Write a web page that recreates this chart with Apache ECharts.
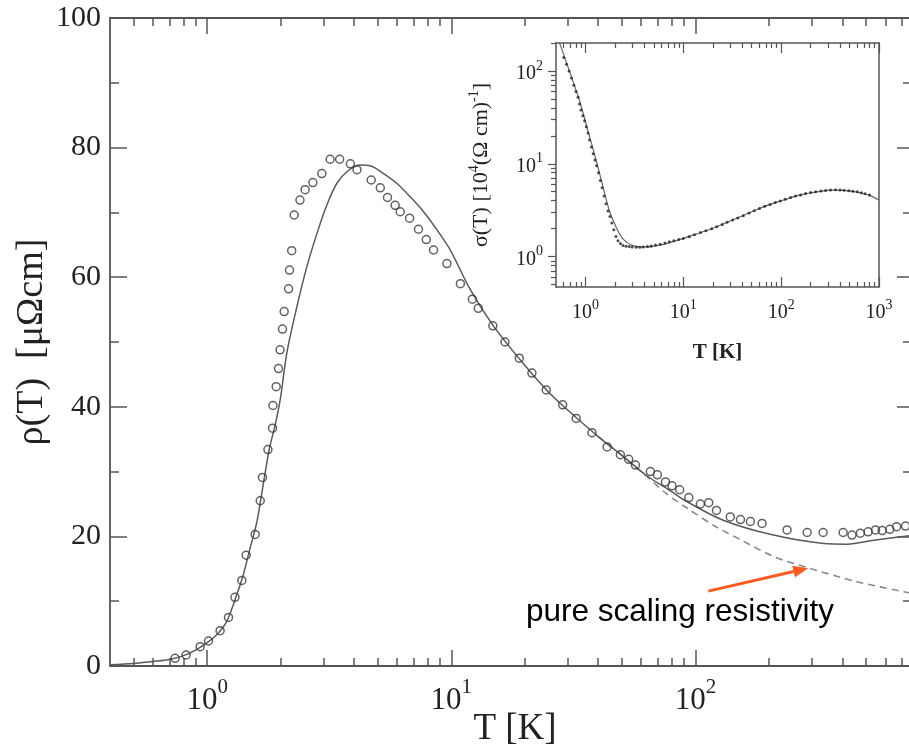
<!DOCTYPE html>
<html><head><meta charset="utf-8">
<script src="https://cdn.jsdelivr.net/npm/echarts@6/dist/echarts.min.js"></script>
<style>html,body{margin:0;padding:0;background:#fff}#c{width:909px;height:750px}</style>
</head><body><div id="c"></div>
<script>
// ---- main plot: resistivity rho(T) [μΩcm] ----
const rhoExpT = [0.739,0.82,0.936,1.013,1.13,1.223,1.30,1.387,1.445,1.573,1.65,1.685,1.774,1.853,1.86,1.918,1.96,1.99,2.035,2.068,2.155,2.175,2.22,2.273,2.40,2.52,2.71,2.95,3.19,3.49,3.86,4.11,4.70,5.12,5.48,5.89,6.18,6.75,7.34,7.90,8.46,9.6,10.9,12.2,12.9,14.8,16.6,19.0,21.4,24.5,28.6,32.5,37.7,43.5,49.3,53.3,56.8,65.4,69.9,75.4,80.2,86.2,94.0,104.8,113.4,122,139,153,168,187.5,237.5,287,333.6,403,438,474,510,547,582,626,667,726];
const rhoExp  = [1.19,1.7,2.98,3.86,5.45,7.5,10.6,13.2,17.1,20.3,25.5,29.1,33.4,36.7,40.2,43.1,45.9,48.8,52.0,54.7,58.2,61.1,64.1,69.6,71.9,73.5,74.6,76.0,78.2,78.2,77.5,76.6,75.0,73.8,72.3,71.1,70.1,69.1,67.4,65.8,64.2,62.1,59.0,56.6,55.2,52.5,50.0,47.5,45.2,42.6,40.3,38.2,36.0,33.8,32.6,31.9,31.0,30.0,29.5,28.4,27.8,27.2,26.0,25.0,25.2,24.0,23.0,22.6,22.3,22.0,21.0,20.6,20.6,20.6,20.2,20.5,20.7,21.0,20.9,21.1,21.5,21.6];
const rhoFitT = [0.4,0.5,0.6,0.7,0.8,0.9,1.0,1.1,1.2,1.3,1.4,1.5,1.6,1.7,1.8,1.9,2.0,2.12,2.33,2.56,2.82,3.09,3.40,3.80,4.24,4.66,5.28,5.98,6.79,7.70,8.74,9.9,12.0,15.0,20.0,25,30,40,50,63,80,90,130,209,336,419,538,750];
const rhoFit  = [0.2,0.4,0.7,1.0,1.6,2.5,3.6,4.9,6.8,10.2,13.8,18.2,22.3,28.2,33.6,37.2,41.5,48.3,55.4,61.6,66.8,71.1,74.5,76.5,77.3,77.2,76.0,74.5,72.4,70.1,67.3,64.2,58.0,52.3,46.4,42.3,39.5,35.4,32.5,29.4,26.9,25.6,22.5,20.2,18.9,18.8,19.4,20.1];
const rhoScaleT = [40,50,63,76,93,120,153,209,287,459,750];
const rhoScale  = [35.4,32.5,29.3,26.6,24.3,21.6,19.5,16.9,15.2,13.0,11.3];
const arrowTipT = 290, arrowTipRho = 15.1;
const annotText = 'pure scaling resistivity';

// ---- inset: conductivity sigma(T) [10^4 (Ω cm)^-1] ----
const sigDataT = [0.60,0.64,0.68,0.72,0.76,0.80,0.84,0.87,0.90,0.94,0.98,1.02,1.06,1.10,1.15,1.20,1.25,1.30,1.36,1.42,1.48,1.55,1.62,1.70,1.78,1.86,1.95,2.05,2.15,2.28,2.42,2.6,2.8,3.0,3.3,3.6,3.9,4.3,4.7,5.2,5.8,6.5,7.2,8.0,9.0,10,11.5,13,15,17,19.5,22,25,28,32,36,41,47,53,60,68,77,87,98,110,125,140,158,178,200,225,255,285,320,360,400,440,490,540,600,660,720,800];
const sigData  = [140,118,100,84,70,60,52,44,38,33,29,25,21.5,18,15.2,12.8,11,9.5,8.0,6.6,5.5,4.5,3.7,3.1,2.7,2.3,1.95,1.65,1.48,1.38,1.32,1.29,1.28,1.27,1.26,1.26,1.27,1.28,1.30,1.33,1.36,1.40,1.44,1.48,1.53,1.57,1.64,1.72,1.82,1.90,2.0,2.1,2.22,2.34,2.47,2.6,2.75,2.95,3.12,3.3,3.48,3.65,3.82,3.98,4.15,4.32,4.48,4.62,4.78,4.9,5.0,5.1,5.15,5.22,5.25,5.2,5.18,5.12,5.05,4.98,4.88,4.76,4.6];
const sigFitT = [0.53,0.6,0.714,0.868,1.056,1.29,1.5,1.76,2.06,2.41,3.05,4.18,6.7,12.5,20,32,60,97,155,250,340,500,700,850,1000];
const sigFit  = [215,150,88,48,23,10.8,5.8,3.1,2.07,1.55,1.31,1.27,1.38,1.70,2.02,2.48,3.3,3.95,4.6,5.05,5.2,5.1,4.75,4.45,4.05];

// ---- tick values ----
const mainMajorX = [1,10,100];
const mainMinorX = [0.5,0.6,0.7,0.8,0.9,2,3,4,5,6,7,8,9,20,30,40,50,60,70,80,90,200,300,400,500,600,700];
const mainMajorY = [0,20,40,60,80,100];
const mainMinorY = [10,30,50,70,90];
const insetMajorX = [1,10,100,1000];
const insetMinorX = [0.6,0.7,0.8,0.9,2,3,4,5,6,7,8,9,20,30,40,50,60,70,80,90,200,300,400,500,600,700,800,900];
const insetMajorY = [1,10,100];
const insetMinorY = [0.5,0.6,0.7,0.8,0.9,2,3,4,5,6,7,8,9,20,30,40,50,60,70,80,90,200];

const zip = (a, b) => a.map((v, i) => [v, b[i]]);
const SERIF = '"Liberation Serif","DejaVu Serif",serif';
const AX = '#555';
const TXT = '#222';

function axis(o) {
  const a = {
    type: o.type, gridIndex: o.grid, position: o.pos,
    min: o.min, max: o.max, logBase: 10,
    splitLine: {show: false}, minorTick: {show: false},
    axisLine: {show: o.line !== false, onZero: false, lineStyle: {color: AX, width: o.lw || 1.8}},
    axisTick: {show: !!o.ticks, inside: o.inside !== false, length: o.len || 8, customValues: o.ticks, lineStyle: {color: AX, width: o.tw || 1.5}},
    axisLabel: {show: false},
    silent: true
  };
  if (o.type === 'value') { a.interval = o.interval || 10; }
  if (o.labels) {
    a.axisLabel = Object.assign({show: true, customValues: o.labels, color: TXT, fontFamily: SERIF}, o.labelOpt);
  }
  if (o.name) Object.assign(a, {nameMoveOverlap: false}, o.name);
  return a;
}

// superscript via padding: base pushed down, sup pushed up; 'sh' shifts both down
const supRich = (bs, ss, pb, ps, sh) => ({
  b: {fontSize: bs, fontFamily: SERIF, color: TXT, lineHeight: bs, padding: [pb + (sh || 0), 0, 0, 0]},
  s: {fontSize: ss, fontFamily: SERIF, color: TXT, lineHeight: ss, padding: [sh || 0, 0, ps, 0]}
});
const pow10 = v => '{b|10}{s|' + Math.round(Math.log10(v)) + '}';

const MX = {type: 'log', grid: 0, min: 0.4, max: 750};
const MY = {type: 'value', grid: 0, min: 0, max: 100, interval: 10};
const IX = {type: 'log', grid: 1, min: 0.5, max: 1000};
const IY = {type: 'log', grid: 1, min: 0.47, max: 200};

const xAxes = [
  axis(Object.assign({}, MX, {pos: 'bottom', ticks: mainMajorX, len: 16, labels: mainMajorX,
    labelOpt: {margin: 9, formatter: pow10, rich: supRich(31, 21, 9, 18, 12)},
    name: {name: 'T [K]', nameLocation: 'middle', nameGap: 45,
      nameTextStyle: {fontFamily: SERIF, fontSize: 37, color: TXT, padding: [0, 0, 0, 11]}}})),
  axis(Object.assign({}, MX, {pos: 'bottom', ticks: mainMinorX, len: 8, line: false})),
  axis(Object.assign({}, MX, {pos: 'top', ticks: mainMajorX, len: 16})),
  axis(Object.assign({}, MX, {pos: 'top', ticks: mainMinorX, len: 8, line: false})),
  axis(Object.assign({}, IX, {pos: 'bottom', ticks: insetMajorX, len: 10, lw: 1.5, tw: 1.2, labels: insetMajorX,
    labelOpt: {margin: 13, formatter: pow10, rich: supRich(20, 14, 6, 10)},
    name: {name: 'T [K]', nameLocation: 'middle', nameGap: 55,
      nameTextStyle: {fontFamily: SERIF, fontSize: 21, fontWeight: 'bold', color: TXT}}})),
  axis(Object.assign({}, IX, {pos: 'bottom', ticks: insetMinorX, len: 5, line: false, tw: 1.2})),
  axis(Object.assign({}, IX, {pos: 'top', ticks: insetMajorX, len: 10, lw: 1.5, tw: 1.2})),
  axis(Object.assign({}, IX, {pos: 'top', ticks: insetMinorX, len: 5, line: false, tw: 1.2}))
];
const yAxes = [
  axis(Object.assign({}, MY, {pos: 'left', ticks: mainMajorY, len: 17, labels: mainMajorY,
    labelOpt: {margin: 9, fontSize: 30},
    name: {name: 'ρ(T)  [μΩcm]', nameLocation: 'middle', nameGap: 59, nameRotate: 90,
      nameTextStyle: {fontFamily: SERIF, fontSize: 38, color: TXT}}})),
  axis(Object.assign({}, MY, {pos: 'left', ticks: mainMinorY, len: 9, line: false})),
  axis(Object.assign({}, MY, {pos: 'right', ticks: mainMajorY, len: 12, line: false})),
  axis(Object.assign({}, MY, {pos: 'right', ticks: mainMinorY, len: 6, line: false})),
  axis(Object.assign({}, IY, {pos: 'left', ticks: insetMajorY, len: 8, inside: false, lw: 1.5, tw: 1.2, labels: insetMajorY,
    labelOpt: {margin: 13, formatter: pow10, rich: supRich(20, 14, 6, 10)},
    name: {name: '{t|σ(T) [10}{s|4}{t|(Ω cm)}{s|-1}{t|]}', nameLocation: 'middle', nameGap: 66, nameRotate: 90,
      nameTextStyle: {rich: {
        t: {fontFamily: SERIF, fontSize: 22, color: TXT, lineHeight: 22, padding: [4, 0, 0, 0]},
        s: {fontFamily: SERIF, fontSize: 14, color: TXT, lineHeight: 14, padding: [0, 0, 10, 0]}}}}})),
  axis(Object.assign({}, IY, {pos: 'left', ticks: insetMinorY, len: 5, inside: false, line: false, tw: 1.2})),
  axis(Object.assign({}, IY, {pos: 'right', lw: 1.5}))
];

const chart = echarts.init(document.getElementById('c'), null, {renderer: 'canvas'});
chart.setOption({
  animation: false,
  backgroundColor: '#fff',
  grid: [
    {left: 110, right: 0, top: 18, bottom: 84, containLabel: false, outerBoundsMode: 'none'},
    {left: 556, top: 43, width: 323, height: 244, containLabel: false, outerBoundsMode: 'none'}
  ],
  xAxis: xAxes,
  yAxis: yAxes,
  series: [
    {type: 'line', xAxisIndex: 0, yAxisIndex: 0, data: zip(rhoScaleT, rhoScale), showSymbol: false, smooth: 0.3,
      lineStyle: {color: '#8a8a8a', width: 1.6, type: [7, 5]}, silent: true, z: 2},
    {type: 'line', xAxisIndex: 0, yAxisIndex: 0, data: zip(rhoFitT, rhoFit), showSymbol: false, smooth: 0.3,
      lineStyle: {color: '#5a5a5a', width: 1.5}, silent: true, z: 3},
    {type: 'scatter', xAxisIndex: 0, yAxisIndex: 0, data: zip(rhoExpT, rhoExp), symbol: 'circle', symbolSize: 8,
      itemStyle: {color: 'rgba(255,255,255,0)', borderColor: '#3a3a3a', borderWidth: 1.5}, silent: true, z: 4},
    {type: 'line', xAxisIndex: 4, yAxisIndex: 4, data: zip(sigFitT, sigFit), showSymbol: false, smooth: 0.3,
      lineStyle: {color: '#666', width: 1.2}, silent: true, clip: true, z: 3},
    {type: 'scatter', xAxisIndex: 4, yAxisIndex: 4, data: zip(sigDataT, sigData), symbol: 'circle', symbolSize: 3,
      itemStyle: {color: '#222'}, silent: true, z: 4}
  ]
});

// annotation arrow anchored on the pure-scaling curve
const tip = chart.convertToPixel({xAxisIndex: 0, yAxisIndex: 0}, [arrowTipT, arrowTipRho]);
const start = [tip[0] - 100, tip[1] + 23];
const ang = Math.atan2(tip[1] - start[1], tip[0] - start[0]);
const hl = 15, hw = 6;
const base = [tip[0] - hl * Math.cos(ang), tip[1] - hl * Math.sin(ang)];
const nx = -Math.sin(ang), ny = Math.cos(ang);
chart.setOption({
  graphic: [
    {type: 'line', silent: true, z: 100,
      shape: {x1: start[0], y1: start[1], x2: base[0], y2: base[1]},
      style: {stroke: '#ff5a1f', lineWidth: 3}},
    {type: 'polygon', silent: true, z: 100,
      shape: {points: [tip, [base[0] + nx * hw, base[1] + ny * hw], [base[0] - nx * hw, base[1] - ny * hw]]},
      style: {fill: '#ff5a1f'}},
    {type: 'text', silent: true, z: 100, x: 526, y: 612,
      style: {text: annotText, fontSize: 31.5, fontFamily: '"Liberation Sans",Arial,sans-serif', fill: '#000',
        align: 'left', verticalAlign: 'middle'}}
  ]
});
</script>
</body></html>
